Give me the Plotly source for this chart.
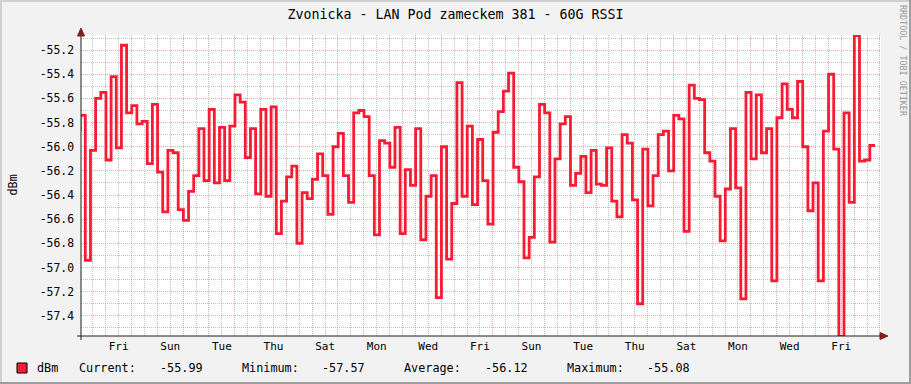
import plotly.graph_objects as go

# ---------------- data ----------------
STEP_HOURS = 4.8           # consolidation step of the RRA
FIRST_STEP_START = -5.6    # hours, relative to left edge of graph
GRAPH_SPAN_HOURS = 744     # 31 days
FIRST_MIDNIGHT = 23.0      # hours after left edge

rssi_dbm = [
    -55.86, -55.74,
    -56.94, -56.03, -55.60, -55.55, -56.11, -55.42, -56.01, -55.16, -55.72, -55.66,
    -55.81, -55.79, -56.14, -55.65, -56.21, -56.54, -56.03, -56.05, -56.52, -56.61,
    -56.37, -56.24, -55.85, -56.28, -55.69, -56.30, -55.84, -56.28, -55.83, -55.57,
    -55.63, -56.09, -55.85, -56.39, -55.69, -56.41, -55.67, -56.72, -56.45, -56.25,
    -56.16, -56.80, -56.38, -56.43, -56.27, -56.06, -56.24, -56.56, -56.00, -55.89,
    -56.24, -56.46, -55.72, -55.70, -55.75, -56.24, -56.73, -55.95, -55.97, -56.17,
    -55.84,
    -56.72, -56.19, -56.32, -55.85, -56.77, -56.41, -56.24, -57.25, -56.00, -56.93,
    -56.47, -55.47, -56.41, -55.83, -56.48, -55.94, -56.28, -56.64, -55.88, -55.71,
    -55.54, -55.39, -56.17, -56.29, -56.92, -56.75, -56.25, -55.65, -55.72, -56.79,
    -56.10,
    -55.81, -55.75, -56.32, -56.22, -56.08, -56.38, -56.03, -56.31, -56.32, -56.01,
    -56.45, -56.58, -55.90, -55.97, -56.44, -57.30, -56.02, -56.49, -56.24, -55.90,
    -55.87, -56.20, -55.74, -55.77, -56.70, -55.49, -55.60, -55.61, -56.05, -56.12,
    -56.41,
    -56.78, -56.35, -55.85, -56.34, -57.26, -55.55, -56.10, -55.57, -56.05, -55.85,
    -57.11, -55.76, -55.48, -55.69, -55.76, -55.46, -56.00, -56.53, -56.30, -57.11,
    -55.87, -55.40, -56.02, -57.57, -55.72, -56.46, -55.08, -56.12, -56.11, -55.99,
]

day_labels = ["Fri", "Sun", "Tue", "Thu", "Sat", "Mon", "Wed", "Fri",
              "Sun", "Tue", "Thu", "Sat", "Mon", "Wed", "Fri"]

y_ticks = [-55.2, -55.4, -55.6, -55.8, -56.0, -56.2, -56.4, -56.6,
           -56.8, -57.0, -57.2, -57.4]
y_minor = [-55.1, -55.3, -55.5, -55.7, -55.9, -56.1, -56.3, -56.5,
           -56.7, -56.9, -57.1, -57.3, -57.5]
y_range = [-57.567, -55.075]

legend_name = "dBm"
legend_stats = [("Current:", "-55.99"), ("Minimum:", "-57.57"),
                ("Average:", "-56.12"), ("Maximum:", "-55.08")]

title_text = "Zvonicka - LAN Pod zameckem 381 - 60G RSSI"
watermark = "RRDTOOL / TOBI OETIKER"

# ---------------- geometry helpers ----------------
W, H = 911, 384
PL, PR, PT, PB = 81, 881, 35, 336


def px(x):
    return (x - PL) / (PR - PL)


def py(y):
    return (PB - y) / (PB - PT)


# ---------------- build series ----------------
times = [FIRST_STEP_START + STEP_HOURS * i for i in range(len(rssi_dbm))]
xs = times + [times[-1] + STEP_HOURS]
ys = rssi_dbm + [rssi_dbm[-1]]

n_days = int(GRAPH_SPAN_HOURS // 24)
noons = [FIRST_MIDNIGHT - 12 + 24 * i for i in range(n_days + 1)
         if 0 <= FIRST_MIDNIGHT - 12 + 24 * i <= GRAPH_SPAN_HOURS]
midnights = [FIRST_MIDNIGHT + 24 * i for i in range(n_days + 1)
             if FIRST_MIDNIGHT + 24 * i <= GRAPH_SPAN_HOURS]
label_pos = [FIRST_MIDNIGHT + 12 + 48 * i for i in range(len(day_labels))]
noon_text = []
for t in noons:
    if t in label_pos:
        noon_text.append(day_labels[label_pos.index(t)])
    else:
        noon_text.append("")

FONT = "DejaVu Sans Mono"
GRID = "rgba(143,143,143,0.55)"
MGRID = "rgba(222,79,79,0.5)"
RED = "#F51C33"
ARROW = "rgb(128,31,31)"
AXIS = "#1F1F1F"

fig = go.Figure()
fig.add_trace(go.Scatter(
    x=xs, y=ys, mode="lines",
    line=dict(shape="hv", color=RED, width=2.8),
    hoverinfo="skip", showlegend=False,
))

fig.update_layout(
    width=W, height=H,
    margin=dict(l=PL, r=W - PR, t=PT, b=H - PB),
    paper_bgcolor="#F2F2F2",
    plot_bgcolor="#FFFFFF",
    showlegend=False,
    font=dict(family=FONT, color="#000000", size=11),
    title=dict(text=title_text, x=0.5, xref="container", xanchor="center",
               y=1 - 14 / H, yref="container", yanchor="middle",
               font=dict(family=FONT, size=13.3, color="#000000")),
    xaxis=dict(
        range=[0, GRAPH_SPAN_HOURS], tickmode="array", tickvals=noons,
        ticktext=noon_text, showgrid=True, gridcolor=GRID, griddash="1px,1px",
        gridwidth=1, zeroline=False, showline=False, ticks="",
        tickfont=dict(family=FONT, size=11, color="#000000"),
        ticklabelstandoff=2,
        minor=dict(tickmode="array", tickvals=midnights, showgrid=True,
                   gridcolor=MGRID, griddash="1px,1px", gridwidth=1, ticks=""),
        fixedrange=True,
    ),
    yaxis=dict(
        range=y_range, tickmode="array", tickvals=y_ticks,
        ticktext=[f"{v:.1f}" for v in y_ticks],
        showgrid=True, gridcolor=MGRID, griddash="1px,1px", gridwidth=1,
        zeroline=False, showline=False, ticks="",
        tickfont=dict(family=FONT, size=11.4, color="#000000"),
        ticklabelstandoff=6,
        minor=dict(tickmode="array", tickvals=y_minor, showgrid=True,
                   gridcolor=GRID, griddash="1px,1px", gridwidth=1, ticks=""),
        fixedrange=True,
    ),
)

shapes = []
# frame (3D shading)
shapes.append(dict(type="line", xref="paper", yref="paper", x0=px(0), x1=px(W),
                   y0=py(1), y1=py(1), line=dict(color="#CFCFCF", width=2)))
shapes.append(dict(type="line", xref="paper", yref="paper", x0=px(1), x1=px(1),
                   y0=py(0), y1=py(H), line=dict(color="#CFCFCF", width=2)))
shapes.append(dict(type="line", xref="paper", yref="paper", x0=px(0), x1=px(W),
                   y0=py(H - 1), y1=py(H - 1), line=dict(color="#9E9E9E", width=2)))
shapes.append(dict(type="line", xref="paper", yref="paper", x0=px(W - 1), x1=px(W - 1),
                   y0=py(0), y1=py(H), line=dict(color="#9E9E9E", width=2)))
# axes
shapes.append(dict(type="line", xref="paper", yref="paper", x0=px(77), x1=px(884),
                   y0=py(PB), y1=py(PB), line=dict(color=AXIS, width=1), layer="above"))
shapes.append(dict(type="line", xref="paper", yref="paper", x0=px(PL), x1=px(PL),
                   y0=py(340), y1=py(31), line=dict(color=AXIS, width=1), layer="above"))
# arrows
shapes.append(dict(type="path", xref="paper", yref="paper",
                   path=f"M {px(PL)} {py(28)} L {px(PL-3.5)} {py(36)} L {px(PL+3.5)} {py(36)} Z",
                   fillcolor=ARROW, line=dict(color=ARROW, width=1), layer="above"))
shapes.append(dict(type="path", xref="paper", yref="paper",
                   path=f"M {px(888)} {py(PB)} L {px(880)} {py(PB-3.5)} L {px(880)} {py(PB+3.5)} Z",
                   fillcolor=ARROW, line=dict(color=ARROW, width=1), layer="above"))
# legend swatch
shapes.append(dict(type="rect", xref="paper", yref="paper",
                   x0=px(17), x1=px(27), y0=py(373), y1=py(363),
                   fillcolor=RED, line=dict(color="#000000", width=1)))
fig.update_layout(shapes=shapes)

ann = []
ann.append(dict(text=legend_name, x=px(12), y=0.5, xref="paper", yref="paper",
                textangle=-90, showarrow=False, xanchor="center", yanchor="middle",
                font=dict(family=FONT, size=11.8, color="#000000")))
ann.append(dict(text=watermark, x=px(903), y=py(61), xref="paper", yref="paper",
                textangle=90, showarrow=False, xanchor="center", yanchor="middle",
                font=dict(family=FONT, size=8.4, color="#999999")))
legend_items = [(35, legend_name)]
stat_x = [(77, 158), (240, 320), (402, 483), (565, 645)]
for (lx, vx), (lab, val) in zip(stat_x, legend_stats):
    legend_items.append((lx, lab))
    legend_items.append((vx, val))
for x0, txt in legend_items:
    ann.append(dict(text=txt, x=px(x0), y=py(368), xref="paper", yref="paper",
                    showarrow=False, xanchor="left", yanchor="middle",
                    font=dict(family=FONT, size=11.8, color="#000000")))
fig.update_layout(annotations=ann)

fig.write_html("out.html", config={"displayModeBar": False},
               post_script="document.body.style.margin='0';document.body.style.padding='0';")
